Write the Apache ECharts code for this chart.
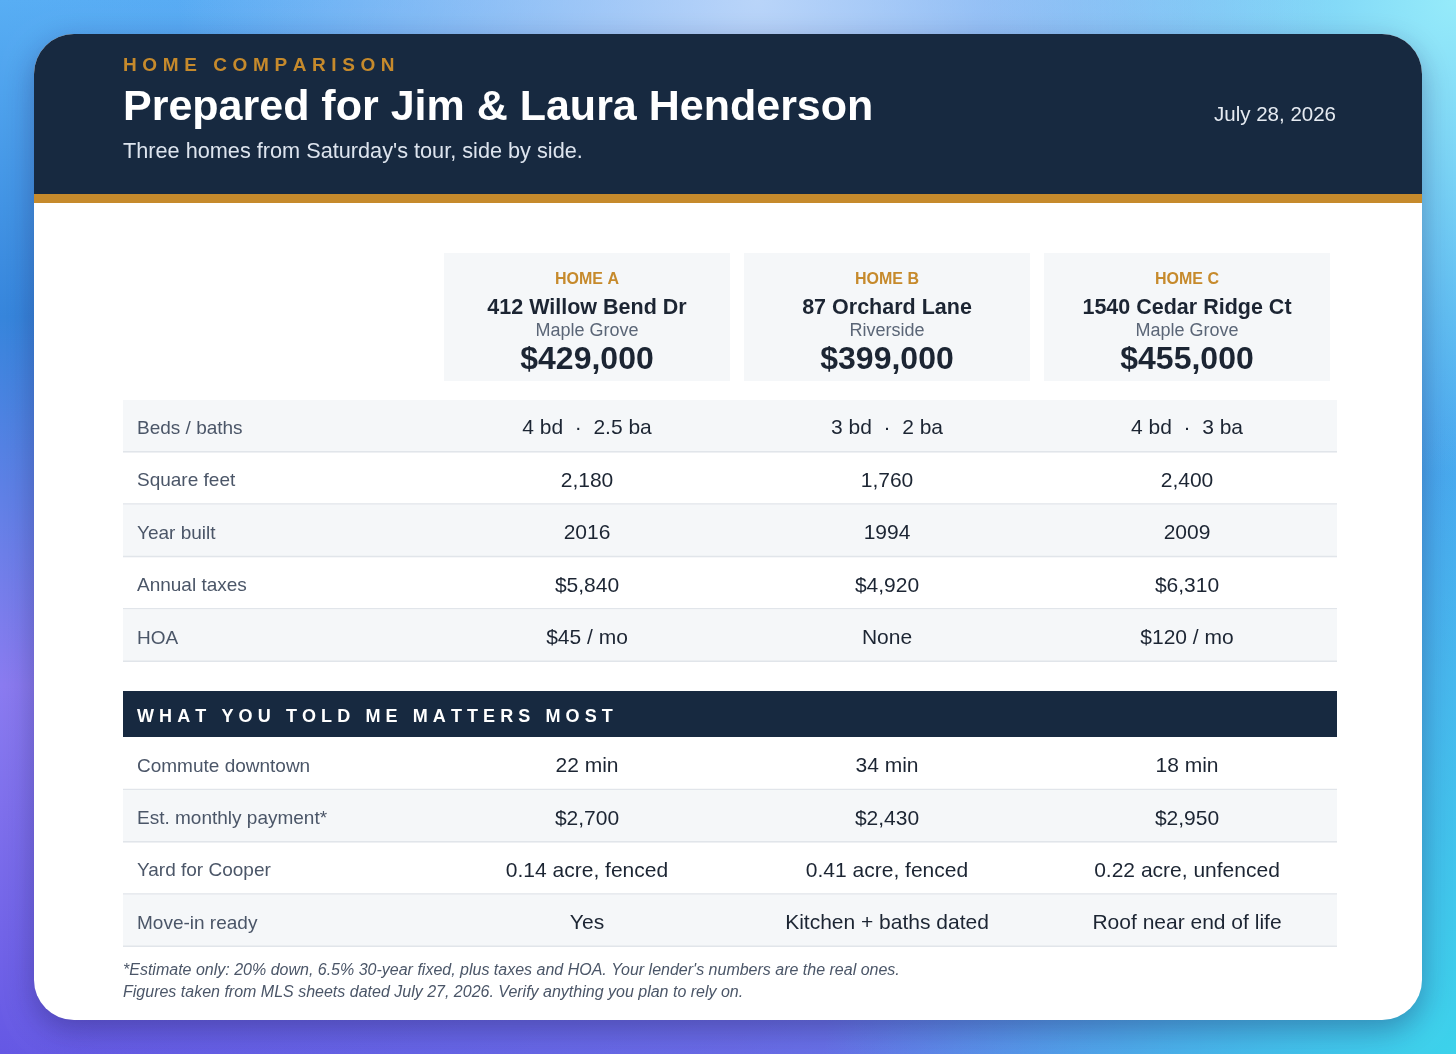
<!DOCTYPE html>
<html>
<head>
<meta charset="utf-8">
<script src="https://cdn.jsdelivr.net/npm/echarts@6/dist/echarts.min.js"></script>
<style>
    html, body {margin: 0; padding: 0; overflow: hidden;}
    #chart {width: 1456px; height: 1054px;}
</style>
</head>
<body>
<div id="chart"></div>
<script>
    // ---- data ----
    var homes = ['HOME A', 'HOME B', 'HOME C'];
    var addresses = ['412 Willow Bend Dr', '87 Orchard Lane', '1540 Cedar Ridge Ct'];
    var towns = ['Maple Grove', 'Riverside', 'Maple Grove'];
    var prices = ['$429,000', '$399,000', '$455,000'];

    var factLabels = ['Beds / baths', 'Square feet', 'Year built', 'Annual taxes', 'HOA'];
    var factValues = [
        ['4 bd \u00a0\u00b7\u00a0 2.5 ba', '3 bd \u00a0\u00b7\u00a0 2 ba', '4 bd \u00a0\u00b7\u00a0 3 ba'],
        ['2,180', '1,760', '2,400'],
        ['2016', '1994', '2009'],
        ['$5,840', '$4,920', '$6,310'],
        ['$45 / mo', 'None', '$120 / mo']
    ];

    var priorityLabels = ['Commute downtown', 'Est. monthly payment*', 'Yard for Cooper', 'Move-in ready'];
    var priorityValues = [
        ['22 min', '34 min', '18 min'],
        ['$2,700', '$2,430', '$2,950'],
        ['0.14 acre, fenced', '0.41 acre, fenced', '0.22 acre, unfenced'],
        ['Yes', 'Kitchen + baths dated', 'Roof near end of life']
    ];

    var kicker = 'HOME COMPARISON';
    var title = 'Prepared for Jim & Laura Henderson';
    var subtitle = "Three homes from Saturday's tour, side by side.";
    var dateText = 'July 28, 2026';
    var sectionTitle = 'WHAT YOU TOLD ME MATTERS MOST';
    var footnotes = [
        "*Estimate only: 20% down, 6.5% 30-year fixed, plus taxes and HOA. Your lender's numbers are the real ones.",
        'Figures taken from MLS sheets dated July 27, 2026. Verify anything you plan to rely on.'
    ];

    // ---- style ----
    var FONT = '"Liberation Sans", "Helvetica Neue", Helvetica, Arial, sans-serif';
    var NAVY = '#172940';
    var GOLD = '#c68a2c';
    var INK = '#1c2533';
    var MUTED = '#4b5668';
    var SHADE = '#f5f7f9';
    var RULE = '#e1e5ea';
    var LABEL_COL = 314;

    var measureCtx = document.createElement('canvas').getContext('2d');

    function txt(s, x, y, size, color, opts) {
        opts = opts || {};
        return {
            type: 'text', x: x, y: y,
            style: {
                text: s, fill: color,
                fontFamily: FONT, fontSize: size,
                fontWeight: opts.weight || 'normal',
                fontStyle: opts.style || 'normal',
                align: opts.align || 'left', textAlign: opts.align || 'left',
                verticalAlign: 'middle', textVerticalAlign: 'middle'
            }
        };
    }

    // letter-spaced caps (canvas has no letter-spacing in zrender)
    function spaced(s, x, y, size, color, gap) {
        measureCtx.font = 'bold ' + size + 'px ' + FONT;
        var kids = [], cx = 0;
        for (var i = 0; i < s.length; i++) {
            kids.push(txt(s[i], cx, 0, size, color, {weight: 'bold'}));
            cx += measureCtx.measureText(s[i]).width + gap;
        }
        return {type: 'group', x: x, y: y, children: kids};
    }

    function rowRender(labels) {
        return function (params, api) {
            var r = api.value(1);
            var y = api.coord([0, r])[1];
            var h = api.size([0, 1])[1];
            var cs = params.coordSys;
            var x0 = cs.x - LABEL_COL;
            var w = cs.width + LABEL_COL;
            var kids = [];
            if (params.seriesName === 'facts' ? r % 2 === 0 : r % 2 === 1) {
                kids.push({type: 'rect', shape: {x: x0, y: y - h / 2, width: w, height: h}, style: {fill: SHADE}});
            }
            kids.push({type: 'rect', shape: {x: x0, y: y + h / 2 - 1.5, width: w, height: 1.5}, style: {fill: RULE}});
            kids.push(txt(labels[r], x0 + 14, y + 2.5, 19, MUTED));
            return {type: 'group', children: kids};
        };
    }

    function cellRender(values) {
        return function (params, api) {
            var c = api.value(0), r = api.value(1);
            var p = api.coord([c, r]);
            return txt(values[r][c], p[0], p[1] + 2.5, 21, INK, {align: 'center'});
        };
    }

    function cardRender(params, api) {
        var c = api.value(0);
        var p = api.coord([c, 0]);
        var bw = api.size([1, 0])[0] - 14;
        var h = api.size([0, 1])[1];
        var top = p[1] - h / 2;
        return {
            type: 'group',
            children: [
                {type: 'rect', shape: {x: p[0] - bw / 2, y: top, width: bw, height: h}, style: {fill: SHADE}},
                txt(homes[c], p[0], top + 27, 16, GOLD, {align: 'center', weight: 'bold'}),
                txt(addresses[c], p[0], top + 55, 21.5, INK, {align: 'center', weight: 'bold'}),
                txt(towns[c], p[0], top + 78.5, 18, '#5b6677', {align: 'center'}),
                txt(prices[c], p[0], top + 107, 32, INK, {align: 'center', weight: 'bold'})
            ]
        };
    }

    var rowData = function (labels) { return labels.map(function (l, i) { return [0, i]; }); };
    var cellData = function (values) {
        var out = [];
        values.forEach(function (row, r) { row.forEach(function (v, c) { out.push([c, r]); }); });
        return out;
    };

    var myChart = echarts.init(document.getElementById('chart'));
    myChart.setOption({
        animation: false,
        graphic: [
            // backdrop
            {type: 'rect', shape: {x: 0, y: 0, width: 1456, height: 1054},
                style: {fill: new echarts.graphic.LinearGradient(0, 0, 0, 1, [
                    {offset: 0, color: '#58aef4'}, {offset: 0.3, color: '#3585dc'},
                    {offset: 0.65, color: '#8a7af0'}, {offset: 1, color: '#6558e4'}])}},
            {type: 'rect', shape: {x: 0, y: 0, width: 1456, height: 1054},
                style: {fill: new echarts.graphic.LinearGradient(0, 0, 1, 0, [
                    {offset: 0, color: 'rgba(90,150,240,0)'}, {offset: 0.5, color: 'rgba(110,140,235,0.35)'},
                    {offset: 1, color: 'rgba(70,170,240,0.9)'}])}},
            {type: 'rect', shape: {x: 0, y: 0, width: 1456, height: 1054},
                style: {fill: new echarts.graphic.RadialGradient(1, 1, 0.6, [
                    {offset: 0, color: 'rgba(60,210,235,1)'}, {offset: 1, color: 'rgba(60,210,235,0)'}])}},
            {type: 'rect', shape: {x: 0, y: 0, width: 1456, height: 1054},
                style: {fill: new echarts.graphic.RadialGradient(1, 0, 0.45, [
                    {offset: 0, color: 'rgba(150,235,250,1)'}, {offset: 1, color: 'rgba(150,235,250,0)'}])}},
            {type: 'rect', shape: {x: 0, y: 0, width: 1456, height: 1054},
                style: {fill: new echarts.graphic.RadialGradient(0.52, 0, 0.55, [
                    {offset: 0, color: 'rgba(195,218,250,0.9)'}, {offset: 1, color: 'rgba(195,218,250,0)'}])}},
            // card
            {type: 'rect', shape: {x: 34, y: 34, width: 1388, height: 986, r: 40},
                style: {fill: '#ffffff', shadowBlur: 30, shadowOffsetY: 10, shadowColor: 'rgba(25,20,80,0.35)'}},
            {type: 'rect', shape: {x: 34, y: 34, width: 1388, height: 160, r: [40, 40, 0, 0]}, style: {fill: NAVY}},
            {type: 'rect', shape: {x: 34, y: 194, width: 1388, height: 9}, style: {fill: GOLD}},
            spaced(kicker, 123, 66, 19, GOLD, 5.6),
            (function () {
                var t = txt(title, 123, 108, 43, '#ffffff', {weight: 'bold'});
                t.style.textShadowColor = 'rgba(0,0,0,0.45)';
                t.style.textShadowOffsetY = 1.5;
                t.style.textShadowOffsetX = 1;
                return t;
            })(),
            txt(subtitle, 123, 152, 21.7, '#dde4ee'),
            txt(dateText, 1336, 115.5, 20.5, '#e6ebf2', {align: 'right'}),
            // section band
            {type: 'rect', shape: {x: 123, y: 691, width: 1214, height: 46}, style: {fill: NAVY}},
            spaced(sectionTitle, 137, 717, 18, '#ffffff', 5.1),
            txt(footnotes[0], 123, 971, 16, MUTED, {style: 'italic'}),
            txt(footnotes[1], 123, 993, 16, MUTED, {style: 'italic'})
        ],
        grid: [
            {left: 437, top: 253, width: 900, height: 128},
            {left: 437, top: 400, width: 900, height: 262},
            {left: 437, top: 738, width: 900, height: 209}
        ],
        xAxis: [0, 1, 2].map(function (g) {
            return {type: 'category', gridIndex: g, data: homes, show: false};
        }),
        yAxis: [
            {type: 'category', gridIndex: 0, data: ['card'], inverse: true, show: false},
            {type: 'category', gridIndex: 1, data: factLabels, inverse: true, show: false},
            {type: 'category', gridIndex: 2, data: priorityLabels, inverse: true, show: false}
        ],
        series: [
            {name: 'cards', type: 'custom', xAxisIndex: 0, yAxisIndex: 0, silent: true,
                renderItem: cardRender, data: homes.map(function (h, i) { return [i, 0]; })},
            {name: 'facts', type: 'custom', xAxisIndex: 1, yAxisIndex: 1, silent: true,
                renderItem: rowRender(factLabels), data: rowData(factLabels)},
            {name: 'factCells', type: 'custom', xAxisIndex: 1, yAxisIndex: 1, silent: true, z: 3,
                renderItem: cellRender(factValues), data: cellData(factValues)},
            {name: 'priorities', type: 'custom', xAxisIndex: 2, yAxisIndex: 2, silent: true,
                renderItem: rowRender(priorityLabels), data: rowData(priorityLabels)},
            {name: 'priorityCells', type: 'custom', xAxisIndex: 2, yAxisIndex: 2, silent: true, z: 3,
                renderItem: cellRender(priorityValues), data: cellData(priorityValues)}
        ]
    });
    window.onresize = function () {
        myChart.resize();
    };
</script>
</body>
</html>
